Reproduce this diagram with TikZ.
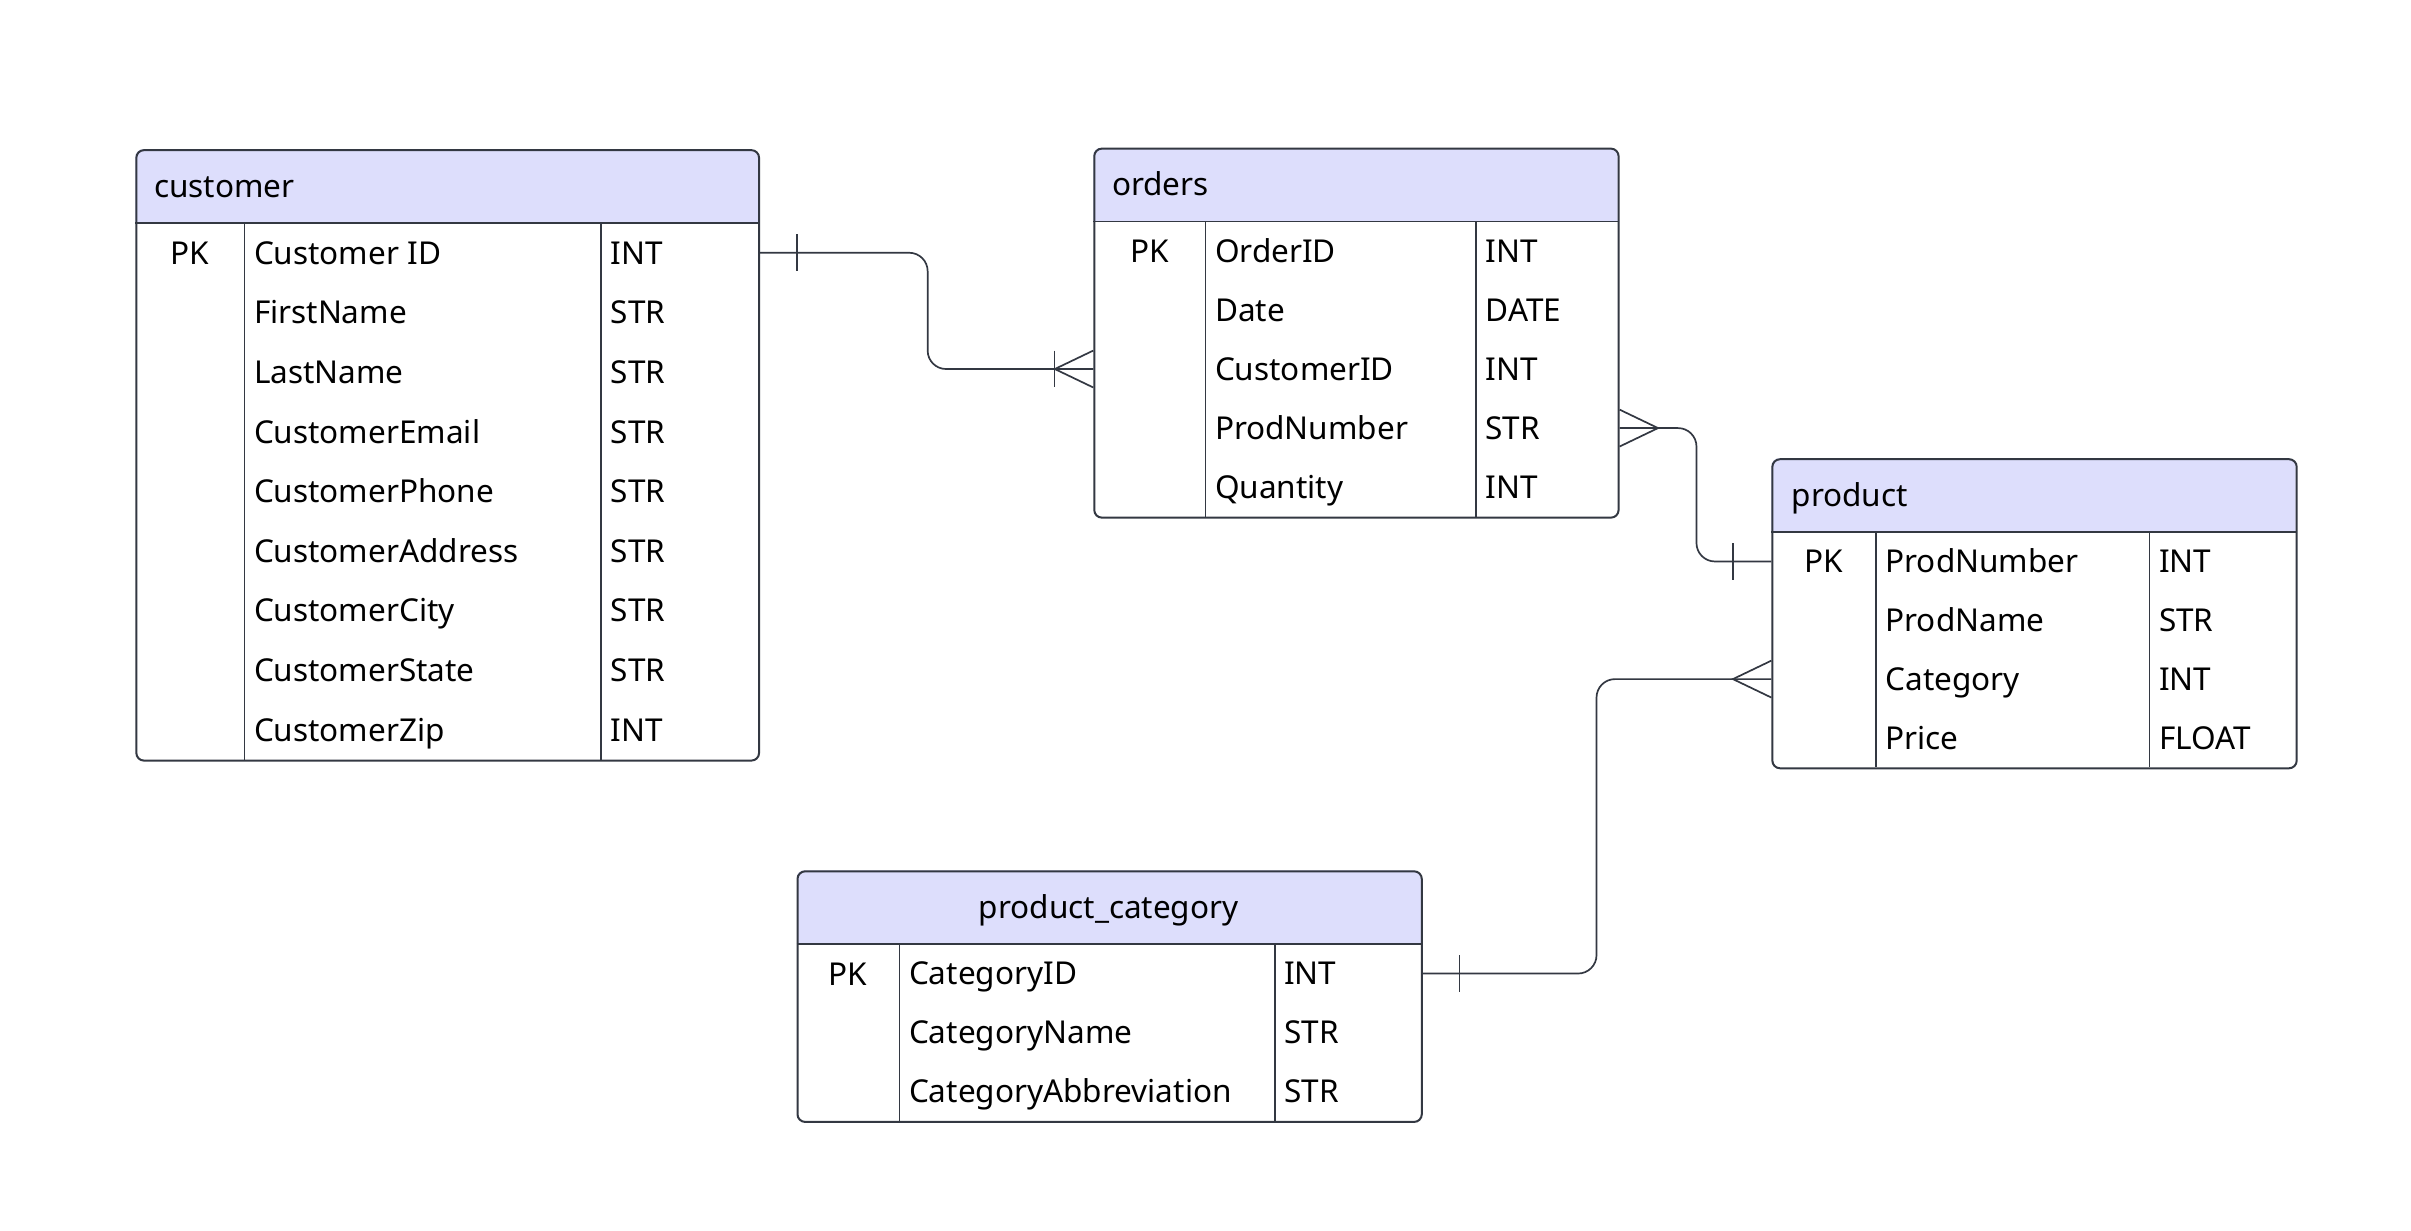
\documentclass[tikz,border=0pt]{standalone}
\usepackage{fontspec}
\setmainfont{Noto Sans}
\usetikzlibrary{calc}
\definecolor{headfill}{RGB}{221,222,252}
\definecolor{edge}{RGB}{51,56,66}

\begin{document}
\begin{tikzpicture}[
    x=1pt, y=-1pt,
    entity/.style={draw=edge, line width=1.3pt, rounded corners=5pt, inner sep=0pt, anchor=north west},
    title/.style={font=\fontsize{20.5pt}{24pt}\selectfont, inner sep=0pt, text height=14.8pt, text depth=0pt},
    field/.style={title, anchor=west},
    rule/.style={draw=edge, line width=1.1pt},
    link/.style={draw=edge, line width=1.1pt, rounded corners=12pt},
    crow/.style={draw=edge, line width=1.1pt},
    tick/.style={draw=edge, line width=0.8pt}
]
    \fill[white] (0,0) rectangle (1568,800);
    \useasboundingbox (0,0) rectangle (1568,800);

    % customer
    \begin{scope}
        \clip[rounded corners=5pt] (88,97) rectangle (493,494);
        \fill[headfill] (88,97) rectangle (493,145);
    \end{scope}
    \node[entity, minimum width=405pt, minimum height=397pt] (customer) at (88,97) {};
    \draw[rule] (88,145) -- (493,145) (159,145) -- (159,494) (391,145) -- (391,494);
    \node[field] (customer-t) at (100,121) {customer};
    \node[title] (customer-pk) at (123.5,164.4) {PK};
    \foreach \n/\t [count=\i] in {Customer ID/INT, FirstName/STR, LastName/STR, CustomerEmail/STR,
        CustomerPhone/STR, CustomerAddress/STR, CustomerCity/STR, CustomerState/STR, CustomerZip/INT}{
        \node[field] (customer-\i) at (165,{125.6+38.78*\i}) {\n};
        \node[field] (customer-\i-type) at (397,{125.6+38.78*\i}) {\t};
    }

    % orders
    \begin{scope}
        \clip[rounded corners=5pt] (711,96) rectangle (1052,336);
        \fill[headfill] (711,96) rectangle (1052,144);
    \end{scope}
    \node[entity, minimum width=341pt, minimum height=240pt] (orders) at (711,96) {};
    \draw[rule] (711,144) -- (1052,144) (784,144) -- (784,336) (960,144) -- (960,336);
    \node[field] (orders-t) at (723,120) {orders};
    \node[title] (orders-pk) at (747.5,163.2) {PK};
    \foreach \n/\t [count=\i] in {OrderID/INT, Date/DATE, CustomerID/INT, ProdNumber/STR, Quantity/INT}{
        \node[field] (orders-\i) at (790,{124.8+38.4*\i}) {\n};
        \node[field] (orders-\i-type) at (966,{124.8+38.4*\i}) {\t};
    }

    % product
    \begin{scope}
        \clip[rounded corners=5pt] (1152,298) rectangle (1493,499);
        \fill[headfill] (1152,298) rectangle (1493,346);
    \end{scope}
    \node[entity, minimum width=341pt, minimum height=201pt] (product) at (1152,298) {};
    \draw[rule] (1152,346) -- (1493,346) (1220,346) -- (1220,499) (1398,346) -- (1398,499);
    \node[field] (product-t) at (1165,322) {product};
    \node[title] (product-pk) at (1186,365.1) {PK};
    \foreach \n/\t [count=\i] in {ProdNumber/INT, ProdName/STR, Category/INT, Price/FLOAT}{
        \node[field] (product-\i) at (1226,{326.9+38.25*\i}) {\n};
        \node[field] (product-\i-type) at (1404,{326.9+38.25*\i}) {\t};
    }

    % product_category
    \begin{scope}
        \clip[rounded corners=5pt] (518,566) rectangle (924,729);
        \fill[headfill] (518,566) rectangle (924,614);
    \end{scope}
    \node[entity, minimum width=406pt, minimum height=163pt] (category) at (518,566) {};
    \draw[rule] (518,614) -- (924,614) (585,614) -- (585,729) (829,614) -- (829,729);
    \node[title] (category-t) at (721,590) {product\_category};
    \node[title] (category-pk) at (551.5,633.2) {PK};
    \foreach \n/\t [count=\i] in {CategoryID/INT, CategoryName/STR, CategoryAbbreviation/STR}{
        \node[field] (category-\i) at (591,{594.8+38.33*\i}) {\n};
        \node[field] (category-\i-type) at (835,{594.8+38.33*\i}) {\t};
    }

    % Relations
    \coordinate (r1a) at (customer.east |- customer-1);
    \coordinate (r1b) at (orders.west |- orders-3);
    \draw[link] (r1a) -- ++(109,0) |- (r1b);
    \draw[tick] (r1a) ++(24,-12) -- ++(0,24);
    \draw[crow] (r1b) ++(0,-12) -- ++(-25,12) -- ++(25,12);
    \draw[tick] (r1b) ++(-25,-12) -- ++(0,24);

    \coordinate (r2a) at (orders.east |- orders-4);
    \coordinate (r2b) at (product.west |- product-1);
    \draw[link] (r2a) -- ++(50,0) |- (r2b);
    \draw[crow] (r2a) ++(0,-12) -- ++(25,12) -- ++(-25,12);
    \draw[tick] (r2b) ++(-25,-12) -- ++(0,24);

    \coordinate (r3a) at (category.east |- category-1);
    \coordinate (r3b) at (product.west |- product-3);
    \draw[link] (r3a) -- ++(113,0) |- (r3b);
    \draw[tick] (r3a) ++(24,-12) -- ++(0,24);
    \draw[crow] (r3b) ++(0,-12) -- ++(-25,12) -- ++(25,12);
\end{tikzpicture}
\end{document}
